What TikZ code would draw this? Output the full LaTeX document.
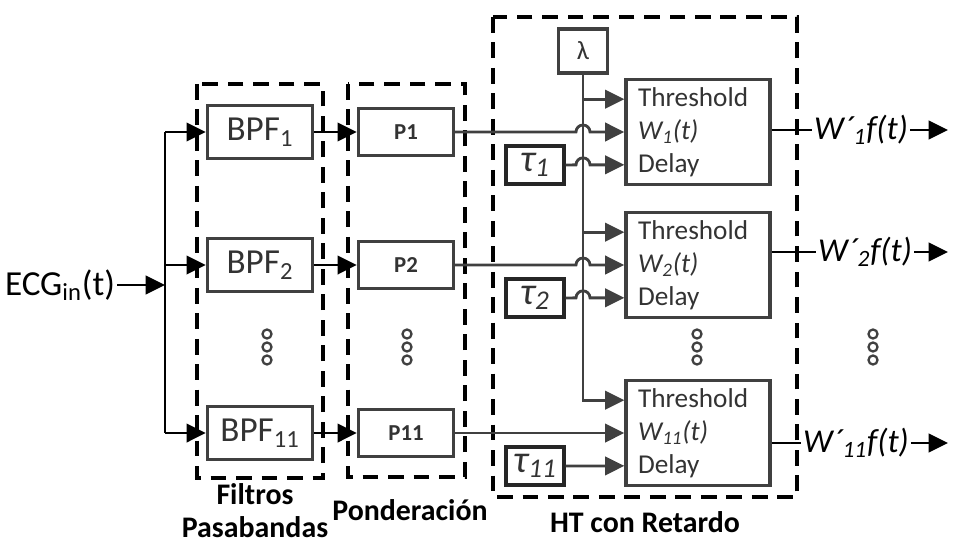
\documentclass[tikz,border=0pt]{standalone}
\usepackage{fontspec}
\setmainfont{Carlito}
\usepackage{xcolor}
\usetikzlibrary{arrows.meta,calc}
\definecolor{boxgray}{HTML}{404040}

\begin{document}
\begin{tikzpicture}[x=0.02cm,y=-0.02cm,
  blk/.style={draw=boxgray,line width=1.9pt,inner sep=0pt,text=black!80},
  grp/.style={draw=black,line width=1.9pt,dash pattern=on 9pt off 5.5pt},
  sig/.style={line width=1.6pt,-{Triangle[length=11pt,width=10.5pt]}},
  hsig/.style={sig,draw=boxgray},
  lbl/.style={font=\fontsize{17}{18.7}\selectfont\bfseries,align=center},
  dotc/.style={draw=boxgray,line width=1.3pt}]
\useasboundingbox (0,0) rectangle (960,544);

% dashed groups
\draw[grp] (197,84) rectangle (323,478);
\draw[grp] (348,84) rectangle (465,477);
\draw[grp] (493,17) rectangle (797,497);
\node[lbl] (lfil) at (255,511) {Filtros\\Pasabandas};
\node[lbl] (lpon) at (410,510) {Ponderación};
\node[lbl] (lht) at (645,522) {HT con Retardo};

% input
\node[inner sep=1pt,font=\fontsize{20}{22}\selectfont] (ecg) at (60,285) {ECG\textsubscript{in}(t)};
\coordinate (bus) at (165,285);

% filters and weights
\node[blk,minimum width=2.1cm,minimum height=1.06cm,font=\fontsize{20}{22}\selectfont] (bpf1) at (260,132) {BPF\textsubscript{1}};
\node[blk,minimum width=2.1cm,minimum height=1.06cm,font=\fontsize{20}{22}\selectfont] (bpf2) at (260,265) {BPF\textsubscript{2}};
\node[blk,minimum width=2.1cm,minimum height=1.06cm,font=\fontsize{20}{22}\selectfont] (bpf11) at (260,433) {BPF\textsubscript{11}};
\node[blk,minimum width=1.9cm,minimum height=0.94cm,font=\fontsize{13}{15}\selectfont\bfseries] (p1) at (406,132) {P1};
\node[blk,minimum width=1.9cm,minimum height=0.94cm,font=\fontsize{13}{15}\selectfont\bfseries] (p2) at (406,265) {P2};
\node[blk,minimum width=1.9cm,minimum height=0.94cm,font=\fontsize{13}{15}\selectfont\bfseries] (p11) at (406,433) {P11};

% HT blocks
\node[blk,minimum width=0.98cm,minimum height=0.88cm,font=\fontsize{15}{17}\selectfont] (lam) at (583,51) {λ};
\node[blk,draw=black!85,minimum width=1.16cm,minimum height=0.76cm,font=\fontsize{22}{22}\selectfont\itshape] (tau1) at (535,165) {τ\textsubscript{1}};
\node[blk,draw=black!85,minimum width=1.16cm,minimum height=0.76cm,font=\fontsize{22}{22}\selectfont\itshape] (tau2) at (535,298) {τ\textsubscript{2}};
\node[blk,draw=black!85,minimum width=1.16cm,minimum height=0.76cm,font=\fontsize{22}{22}\selectfont\itshape] (tau11) at (535,466) {τ\textsubscript{11}};
\node[blk,minimum width=2.88cm,minimum height=2.1cm,text width=2.4cm,inner xsep=0.24cm,align=left,font=\fontsize{15.5}{18.7}\selectfont] (th1) at (698,132) {Threshold\\\textit{W\textsubscript{1}(t)}\\Delay};
\node[blk,minimum width=2.88cm,minimum height=2.1cm,text width=2.4cm,inner xsep=0.24cm,align=left,font=\fontsize{15.5}{18.7}\selectfont] (th2) at (698,265) {Threshold\\\textit{W\textsubscript{2}(t)}\\Delay};
\node[blk,minimum width=2.88cm,minimum height=2.1cm,text width=2.4cm,inner xsep=0.24cm,align=left,font=\fontsize{15.5}{18.7}\selectfont] (th11) at (698,433) {Threshold\\\textit{W\textsubscript{11}(t)}\\Delay};
\foreach \i in {1,2,11} {
  \coordinate (thr\i) at ([yshift=18.7pt]th\i.west);
  \coordinate (dly\i) at ([yshift=-18.7pt]th\i.west);
}

% outputs
\node[inner sep=1pt,font=\fontsize{19}{20}\selectfont\itshape] (o1) at (861,130) {W´\textsubscript{1}f(t)};
\node[inner sep=1pt,font=\fontsize{19}{20}\selectfont\itshape] (o2) at (865,252) {W´\textsubscript{2}f(t)};
\node[inner sep=1pt,font=\fontsize{19}{20}\selectfont\itshape] (o11) at (856,443) {W´\textsubscript{11}f(t)};
\coordinate (e1) at (948,130);
\coordinate (e2) at (948,252);
\coordinate (e11) at (948,443);

% left side
\draw[sig] (ecg.east) -- (bus);
\draw[line width=1.6pt] (bus |- bpf1) -- (bus |- bpf11);
\foreach \i in {1,2,11} {
  \draw[sig] (bus |- bpf\i) -- (bpf\i.west);
  \draw[sig] (bpf\i.east) -- (p\i.west);
}

% lambda
\draw[hsig] (lam.south) |- (thr11);
\draw[hsig] (lam.south |- thr1) -- (thr1);
\draw[hsig] (lam.south |- thr2) -- (thr2);

% weights and delays with hops
\draw[hsig] (p1.east) -- ($(lam.south |- p1.east)+(-7,0)$) arc[start angle=180,end angle=360,radius=7] -- (th1.west);
\draw[hsig] (p2.east) -- ($(lam.south |- p2.east)+(-7,0)$) arc[start angle=180,end angle=360,radius=7] -- (th2.west);
\draw[hsig] (p11.east) -- (th11.west);
\draw[hsig] (tau1.east) -- ($(lam.south |- dly1)+(-7,0)$) arc[start angle=180,end angle=360,radius=7] -- (dly1);
\draw[hsig] (tau2.east) -- ($(lam.south |- dly2)+(-7,0)$) arc[start angle=180,end angle=360,radius=7] -- (dly2);
\draw[hsig] (tau11.east) -- (dly11);

\foreach \i in {1,2,11} {
  \draw[line width=1.6pt] (th\i.east |- o\i) -- (o\i.west);
  \draw[sig] (o\i.east) -- (e\i);
}

% dots
\foreach \x in {267,407,697,873}
  \foreach \y in {334,347,360}
    \draw[dotc] (\x,\y) circle (4.5);
\end{tikzpicture}
\end{document}
